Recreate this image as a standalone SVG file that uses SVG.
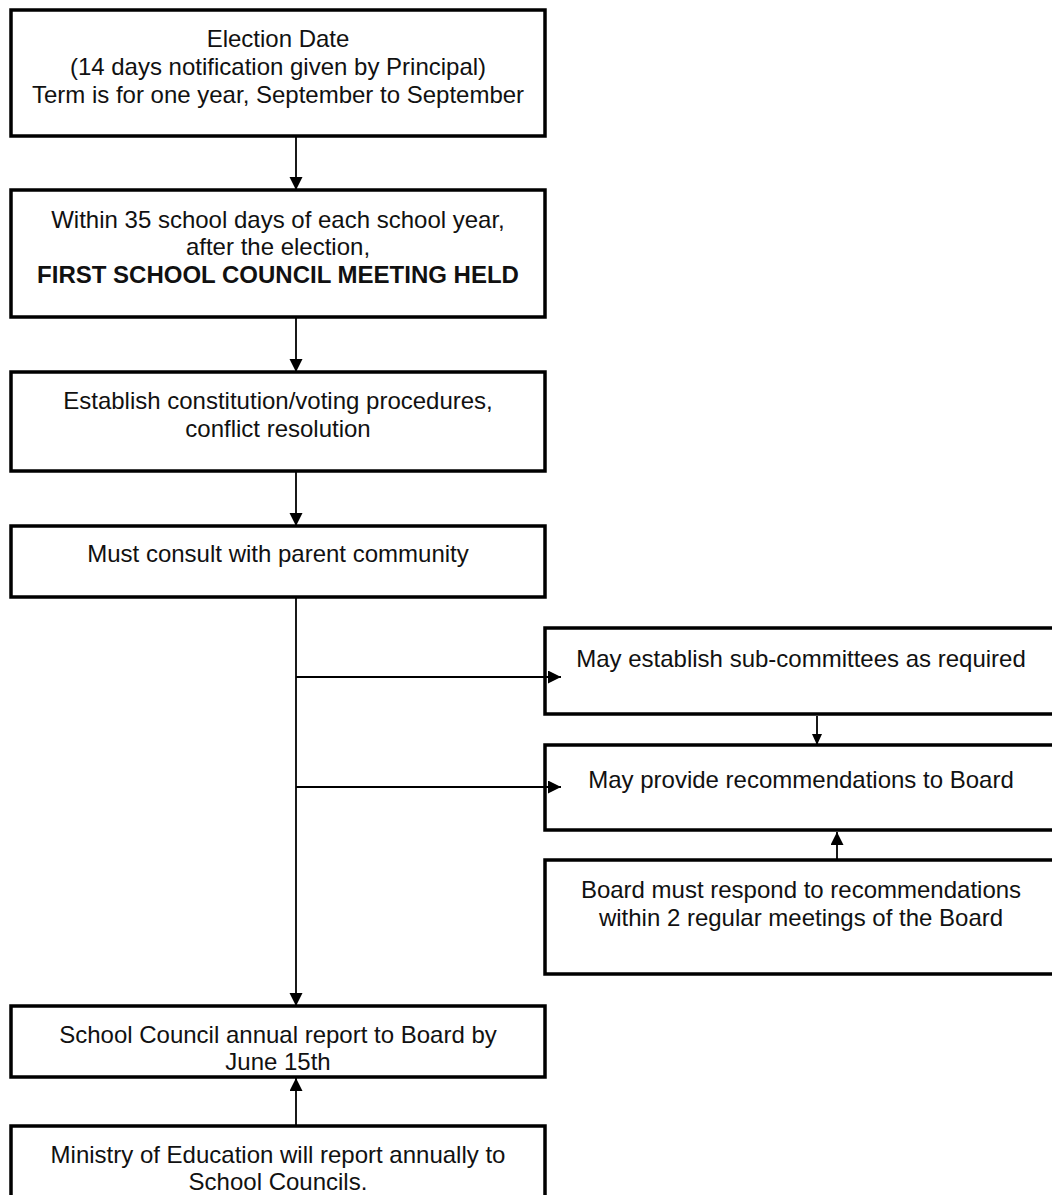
<svg xmlns="http://www.w3.org/2000/svg" width="1052" height="1195" viewBox="0 0 1052 1195">
  <style>
    .box { fill: #ffffff; stroke: #000000; stroke-width: 3.5; }
    .t { font-family: "Liberation Sans", Arial, sans-serif; font-size: 24px; fill: #111111; text-anchor: middle; }
    .b { font-weight: bold; }
    .c { fill: none; stroke: #000000; stroke-width: 1.8; }
  </style>
  <defs>
    <marker id="ah" markerUnits="userSpaceOnUse" markerWidth="14" markerHeight="14" refX="13" refY="6.5" orient="auto">
      <path d="M0,0 L13,6.5 L0,13 z" fill="#000000"/>
    </marker>
    <marker id="ahs" markerUnits="userSpaceOnUse" markerWidth="12" markerHeight="12" refX="11" refY="5" orient="auto">
      <path d="M0,0 L11,5 L0,10 z" fill="#000000"/>
    </marker>
  </defs>
  <rect width="1052" height="1195" fill="#ffffff"/>

  <g id="n1">
    <rect class="box" x="11" y="10" width="534" height="126"/>
    <text class="t" x="278" y="47">Election Date</text>
    <text class="t" x="278" y="75">(14 days notification given by Principal)</text>
    <text class="t" x="278" y="103">Term is for one year, September to September</text>
  </g>

  <g id="n2">
    <rect class="box" x="11" y="190" width="534" height="127"/>
    <text class="t" x="278" y="228">Within 35 school days of each school year,</text>
    <text class="t" x="278" y="255">after the election,</text>
    <text class="t b" x="278" y="283">FIRST SCHOOL COUNCIL MEETING HELD</text>
  </g>

  <g id="n3">
    <rect class="box" x="11" y="372" width="534" height="99"/>
    <text class="t" x="278" y="409">Establish constitution/voting procedures,</text>
    <text class="t" x="278" y="437">conflict resolution</text>
  </g>

  <g id="n4">
    <rect class="box" x="11" y="526" width="534" height="71"/>
    <text class="t" x="278" y="562">Must consult with parent community</text>
  </g>

  <g id="n5">
    <rect class="box" x="545" y="628" width="520" height="86"/>
    <text class="t" x="801" y="667">May establish sub-committees as required</text>
  </g>

  <g id="n6">
    <rect class="box" x="545" y="745" width="520" height="85"/>
    <text class="t" x="801" y="788">May provide recommendations to Board</text>
  </g>

  <g id="n7">
    <rect class="box" x="545" y="860" width="520" height="114"/>
    <text class="t" x="801" y="898">Board must respond to recommendations</text>
    <text class="t" x="801" y="926">within 2 regular meetings of the Board</text>
  </g>

  <g id="n8">
    <rect class="box" x="11" y="1006" width="534" height="71"/>
    <text class="t" x="278" y="1043">School Council annual report to Board by</text>
    <text class="t" x="278" y="1070">June 15th</text>
  </g>

  <g id="n9">
    <rect class="box" x="11" y="1126" width="534" height="100"/>
    <text class="t" x="278" y="1163">Ministry of Education will report annually to</text>
    <text class="t" x="278" y="1190">School Councils.</text>
  </g>

  <g id="connectors">
    <line class="c" x1="296" y1="136" x2="296" y2="190" marker-end="url(#ah)"/>
    <line class="c" x1="296" y1="317" x2="296" y2="372" marker-end="url(#ah)"/>
    <line class="c" x1="296" y1="471" x2="296" y2="526" marker-end="url(#ah)"/>
    <line class="c" x1="296" y1="597" x2="296" y2="1006" marker-end="url(#ah)"/>
    <line class="c" x1="296" y1="677" x2="561" y2="677" marker-end="url(#ah)"/>
    <line class="c" x1="296" y1="787" x2="561" y2="787" marker-end="url(#ah)"/>
    <line class="c" x1="817" y1="716" x2="817" y2="745" marker-end="url(#ahs)"/>
    <line class="c" x1="837" y1="860" x2="837" y2="832" marker-end="url(#ah)"/>
    <line class="c" x1="296" y1="1126" x2="296" y2="1078" marker-end="url(#ah)"/>
  </g>
</svg>
